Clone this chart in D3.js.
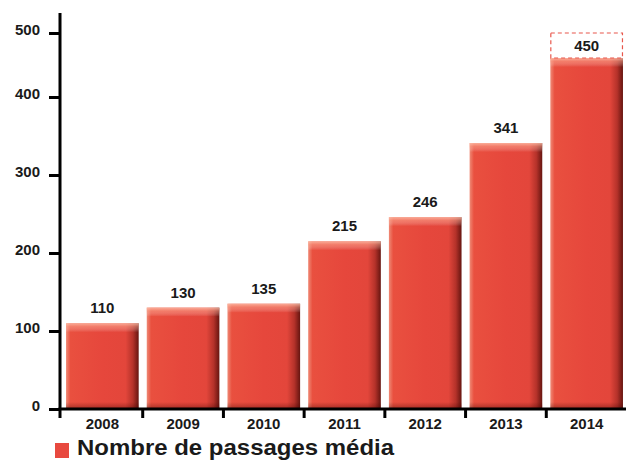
<!DOCTYPE html>
<html><head><meta charset="utf-8">
<script src="https://cdn.jsdelivr.net/npm/d3@7/dist/d3.min.js"></script>
<style>body{margin:0;background:#fff}svg{display:block}text{font-family:"Liberation Sans",Arial,sans-serif}</style>
</head><body><svg id="c" width="626" height="461"></svg>
<script>
const years = ["2008","2009","2010","2011","2012","2013","2014"];
const values = [110,130,135,215,246,341,450];
const yTicks = [0,100,200,300,400,500];
const legendLabel = "Nombre de passages média";
const highlightYear = "2014";

const svg = d3.select("#c");
const defs = svg.append("defs");
const gh = defs.append("linearGradient").attr("id","gh").attr("x1",0).attr("x2",1).attr("y1",0).attr("y2",0);
[[0,"#ef8a76"],[0.06,"#e9503f"],[0.5,"#e6473c"],[0.82,"#e3463b"],[0.92,"#b5322a"],[1,"#661510"]].forEach(([o,c])=>gh.append("stop").attr("offset",o).attr("stop-color",c));
const gt = defs.append("linearGradient").attr("id","gt").attr("x1",0).attr("x2",0).attr("y1",0).attr("y2",1);
[[0,"#ffc6b0",0.8],[0.4,"#ffb49c",0.45],[1,"#ffffff",0]].forEach(([o,c,a])=>gt.append("stop").attr("offset",o).attr("stop-color",c).attr("stop-opacity",a));
const gb = defs.append("linearGradient").attr("id","gb").attr("x1",0).attr("x2",0).attr("y1",0).attr("y2",1);
[[0,"#400000",0],[1,"#400000",0.4]].forEach(([o,c,a])=>gb.append("stop").attr("offset",o).attr("stop-color",c).attr("stop-opacity",a));

const x = d3.scaleBand().domain(years).range([62,627]).paddingInner(0.1).paddingOuter(0.05);
const xb = d3.scaleBand().domain(years).range([62,627]);
// bar scale
const y = d3.scaleLinear().domain([0,500]).range([409,19]);
// axis scale as printed on the original (top tick compressed)
const yAxisScale = d3.scaleLinear().domain([0,400,500]).range([409,97,33]);

// bars
const g = svg.append("g");
years.forEach((yr,i)=>{
  const x0 = x(yr), w = x.bandwidth(), top = y(values[i]), h = y(0)-top;
  g.append("rect").attr("x",x0).attr("y",top).attr("width",w).attr("height",h).attr("fill","url(#gh)");
  g.append("rect").attr("x",x0).attr("y",top).attr("width",w).attr("height",9).attr("fill","url(#gt)");
  g.append("rect").attr("x",x0).attr("y",y(0)-7).attr("width",w).attr("height",7).attr("fill","url(#gb)");
});

// highlight dashed box
const hi = years.indexOf(highlightYear);
svg.append("rect").attr("x",x(highlightYear)+0.5).attr("y",yAxisScale(500))
  .attr("width",x.bandwidth()-1).attr("height",y(values[hi])-yAxisScale(500))
  .attr("fill","none").attr("stroke","#e8574c").attr("stroke-width",1.2).attr("stroke-dasharray","4,3");

// value labels
years.forEach((yr,i)=>{
  const isHi = yr===highlightYear;
  svg.append("text").attr("x",x(yr)+x.bandwidth()/2)
    .attr("y", isHi ? (yAxisScale(500)+y(values[i]))/2+5.5 : y(values[i])-10)
    .attr("text-anchor","middle").attr("font-size",15).attr("font-weight","bold").attr("fill","#1a1a1a")
    .text(values[i]);
});

// y axis
const yAxis = d3.axisLeft(yAxisScale).tickValues(yTicks).tickSize(11).tickPadding(9).tickFormat(d3.format("d"));
const ya = svg.append("g").attr("transform","translate(60,0)").call(yAxis);
ya.select(".domain").remove();
ya.selectAll(".tick line").attr("stroke","#000").attr("stroke-width",3);
ya.selectAll(".tick text").attr("font-size",15).attr("font-weight","bold").attr("fill","#1a1a1a").attr("dy","0.1em");
svg.append("line").attr("x1",60).attr("x2",60).attr("y1",13).attr("y2",418).attr("stroke","#000").attr("stroke-width",3);

// x axis
svg.append("line").attr("x1",58.5).attr("x2",626).attr("y1",409).attr("y2",409).attr("stroke","#000").attr("stroke-width",3);
const xa = svg.append("g").attr("transform","translate(0,409)");
years.slice(1).forEach(yr=>{
  xa.append("line").attr("x1",xb(yr)).attr("x2",xb(yr)).attr("y1",0).attr("y2",9).attr("stroke","#000").attr("stroke-width",3);
});
years.forEach(yr=>{
  xa.append("text").attr("x",xb(yr)+xb.bandwidth()/2).attr("y",20).attr("text-anchor","middle")
    .attr("font-size",15).attr("font-weight","bold").attr("fill","#1a1a1a").text(yr);
});

// legend
svg.append("rect").attr("x",55).attr("y",443).attr("width",14).attr("height",15).attr("fill","#e8493f");
svg.append("text").attr("transform","translate(77,455) scale(1.09,1)").attr("font-size",22).attr("font-weight","bold").attr("fill","#1a1a1a")
  .text(legendLabel);
</script></body></html>
